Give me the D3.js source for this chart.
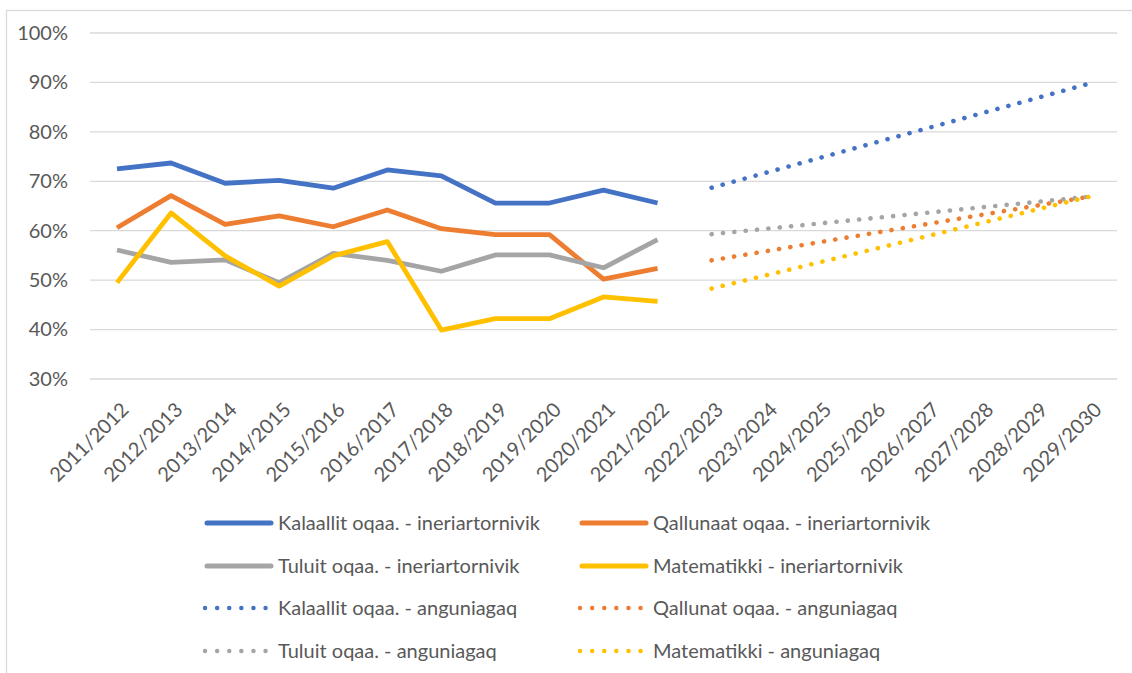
<!DOCTYPE html>
<html>
<head>
<meta charset="utf-8">
<script src="https://cdn.jsdelivr.net/npm/d3@7"></script>
<style>
  body { margin: 0; background: #fff; }
  text { font-family: Lato, "Open Sans", sans-serif; fill: #595959; }
</style>
</head>
<body>
<div id="chart"></div>
<script>
// Categories (school years)
const years = ["2011/2012", "2012/2013", "2013/2014", "2014/2015", "2015/2016", "2016/2017",
  "2017/2018", "2018/2019", "2019/2020", "2020/2021", "2021/2022", "2022/2023", "2023/2024",
  "2024/2025", "2025/2026", "2026/2027", "2027/2028", "2028/2029", "2029/2030"];

// Actual results 2011/2012 - 2021/2022
const actualYears = years.slice(0, 11);
const kalaallit = [0.725, 0.737, 0.696, 0.702, 0.686, 0.723, 0.711, 0.656, 0.656, 0.682, 0.656];
const qallunaat = [0.606, 0.671, 0.613, 0.630, 0.608, 0.642, 0.604, 0.592, 0.592, 0.502, 0.524];
const tuluit    = [0.561, 0.536, 0.541, 0.495, 0.554, 0.540, 0.518, 0.551, 0.551, 0.525, 0.582];
const matematik = [0.495, 0.636, 0.549, 0.488, 0.549, 0.578, 0.399, 0.422, 0.422, 0.466, 0.457];

// Targets (start and end point)
const targetYears = ["2022/2023", "2029/2030"];
const kalaallitTarget = [0.687, 0.898];
const qallunaatTarget = [0.540, 0.669];
const tuluitTarget    = [0.593, 0.669];
const matematikTarget = [0.483, 0.669];

const yTicks = [0.3, 0.4, 0.5, 0.6, 0.7, 0.8, 0.9, 1.0];

const colors = { blue: "#4472C4", orange: "#ED7D31", gray: "#A5A5A5", yellow: "#FFC000" };

const series = [
  { name: "Kalaallit oqaa. - ineriartornivik", x: actualYears, v: kalaallit, color: colors.blue, dotted: false },
  { name: "Qallunaat oqaa. - ineriartornivik", x: actualYears, v: qallunaat, color: colors.orange, dotted: false },
  { name: "Tuluit oqaa. - ineriartornivik", x: actualYears, v: tuluit, color: colors.gray, dotted: false },
  { name: "Matematikki - ineriartornivik", x: actualYears, v: matematik, color: colors.yellow, dotted: false },
  { name: "Kalaallit oqaa. - anguniagaq", x: targetYears, v: kalaallitTarget, color: colors.blue, dotted: true },
  { name: "Qallunat oqaa. - anguniagaq", x: targetYears, v: qallunaatTarget, color: colors.orange, dotted: true },
  { name: "Tuluit oqaa. - anguniagaq", x: targetYears, v: tuluitTarget, color: colors.gray, dotted: true },
  { name: "Matematikki - anguniagaq", x: targetYears, v: matematikTarget, color: colors.yellow, dotted: true }
];

const W = 1132, H = 673;
const plot = { left: 90, right: 1117, top: 33, bottom: 379 };

const svg = d3.select("#chart").append("svg")
  .attr("width", W)
  .attr("height", H);

// chart border (only left and top are inside the picture)
svg.append("rect")
  .attr("x", 6.5).attr("y", 10.5)
  .attr("width", 1200).attr("height", 1000)
  .attr("fill", "none")
  .attr("stroke", "#D9D9D9")
  .attr("stroke-width", 1.3);

const x = d3.scalePoint().domain(years).range([plot.left, plot.right]).padding(0.5);
const y = d3.scaleLinear().domain([0.3, 1.0]).range([plot.bottom, plot.top]);

// Gridlines
svg.append("g")
  .selectAll("line")
  .data(yTicks)
  .join("line")
  .attr("x1", plot.left).attr("x2", plot.right)
  .attr("y1", d => y(d)).attr("y2", d => y(d))
  .attr("stroke", "#D9D9D9")
  .attr("stroke-width", 1.3);

// Y axis labels
const yAxis = svg.append("g")
  .attr("transform", `translate(${plot.left}, 0)`)
  .call(d3.axisLeft(y).tickValues(yTicks).tickFormat(d3.format(".0%")).tickSize(0).tickPadding(22));
yAxis.select(".domain").remove();
yAxis.selectAll("text")
  .style("font-size", "20px")
  .attr("fill", "#595959");

// X axis labels, rotated
svg.append("g")
  .selectAll("text")
  .data(years)
  .join("text")
  .attr("transform", d => `translate(${x(d) + 8}, 406) rotate(-45)`)
  .attr("text-anchor", "end")
  .attr("dy", "0.35em")
  .style("font-size", "20px")
  .text(d => d);

// Lines
const line = d3.line()
  .x(d => x(d[0]))
  .y(d => y(d[1]));

svg.append("g")
  .selectAll("path")
  .data(series)
  .join("path")
  .attr("d", s => line(s.x.map((k, i) => [k, s.v[i]])))
  .attr("fill", "none")
  .attr("stroke", s => s.color)
  .attr("stroke-width", s => s.dotted ? 4.6 : 4.8)
  .attr("stroke-linejoin", "round")
  .attr("stroke-linecap", s => s.dotted ? "round" : "butt")
  .attr("stroke-dasharray", s => s.dotted ? "0.1 11.3" : null);

// Legend: two columns, four rows
const legendCols = [205, 580];
const legendRows = [523, 566, 608, 651];

const legend = svg.append("g")
  .selectAll("g")
  .data(series)
  .join("g")
  .attr("transform", (s, i) => `translate(${legendCols[i % 2]}, ${legendRows[Math.floor(i / 2)]})`);

legend.append("line")
  .attr("x1", s => s.dotted ? 0 : 2)
  .attr("x2", s => s.dotted ? 62 : 66)
  .attr("stroke", s => s.color)
  .attr("stroke-width", s => s.dotted ? 4.4 : 5)
  .attr("stroke-linecap", "round")
  .attr("stroke-dasharray", s => s.dotted ? "0.1 12" : null);

legend.append("text")
  .attr("x", s => s.dotted ? 73 : 73)
  .attr("dy", "0.35em")
  .style("font-size", "20px")
  .text(s => s.name);
</script>
</body>
</html>
